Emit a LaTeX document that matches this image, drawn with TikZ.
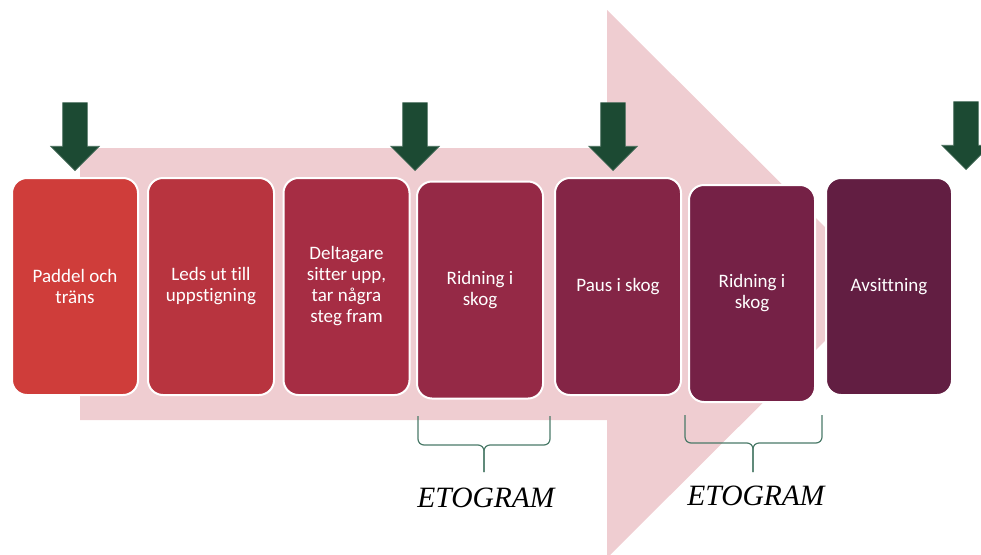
\documentclass[tikz,border=0pt]{standalone}
\usepackage{fontspec}
\setmainfont{Carlito}[Ligatures=NoCommon]
\newfontfamily\etofont{Liberation Serif}
\usetikzlibrary{shapes.arrows}

\definecolor{pinkbg}{HTML}{EFCDD1}
\definecolor{stepA}{HTML}{CF3D3A}
\definecolor{stepB}{HTML}{B8343F}
\definecolor{stepC}{HTML}{A62D44}
\definecolor{stepD}{HTML}{952946}
\definecolor{stepE}{HTML}{842546}
\definecolor{stepF}{HTML}{752146}
\definecolor{stepG}{HTML}{621E42}
\definecolor{markgreen}{HTML}{1C4A33}
\definecolor{bracegreen}{HTML}{4A7A68}

\begin{document}
\begin{tikzpicture}[x=1pt,y=-1pt]
	\tikzstyle{phase}=[rounded corners=15pt, draw=white, line width=2pt, minimum width=126pt, minimum height=217pt, text=white, align=center, inner sep=0pt, font=\fontsize{19}{21}\selectfont]
	\tikzstyle{marker}=[single arrow, rotate=-90, anchor=tip, fill=markgreen, draw=markgreen!80!white, line width=0.6pt, inner xsep=0pt, inner ysep=12pt, minimum height=68pt, single arrow head extend=12pt, single arrow tip angle=90]
	\tikzstyle{brace}=[draw=bracegreen, line width=1.2pt, rounded corners=6pt]
	\tikzstyle{etogram}=[font=\etofont\itshape\fontsize{29.5}{30}\selectfont, inner sep=2pt]
	\clip (0,0) rectangle (981,554);
	\fill [pinkbg] (80,148) -- (607,148) -- (607,10) -- (882,284) -- (607,558) -- (607,420) -- (80,420) -- cycle;
	\node [phase, fill=stepA] (paddel) at (75,286.5) {Paddel och\\träns};
	\node [phase, fill=stepB] (leds) at (211,286.5) {Leds ut till\\uppstigning};
	\node [phase, fill=stepC] (deltagare) at (346.5,286.5) {Deltagare\\sitter upp,\\tar några\\steg fram};
	\node [phase, fill=stepD] (ridningA) at (480,290) {Ridning i\\skog};
	\node [phase, fill=stepE] (paus) at (618,286.5) {Paus i skog};
	\node [phase, fill=stepF] (ridningB) at (752,293.5) {Ridning i\\skog};
	\node [phase, fill=stepG] (avsittning) at (889,286.5) {Avsittning};
	\node [marker] (markA) at (75,171) {};
	\node [marker] (markB) at (415,171) {};
	\node [marker] (markC) at (613,171) {};
	\node [marker] (markD) at (966,170) {};
	\node [etogram] (etogramA) at (486,498) {ETOGRAM};
	\node [etogram] (etogramB) at (756,496) {ETOGRAM};
	\draw [brace] (418,416) -- (418,445) -- (484,445) -- (484,472);
	\draw [brace] (550,416) -- (550,445) -- (484,445) -- (484,472);
	\draw [brace] (685,415) -- (685,443) -- (753,443) -- (753,472);
	\draw [brace] (822,415) -- (822,443) -- (753,443) -- (753,472);
\end{tikzpicture}
\end{document}
